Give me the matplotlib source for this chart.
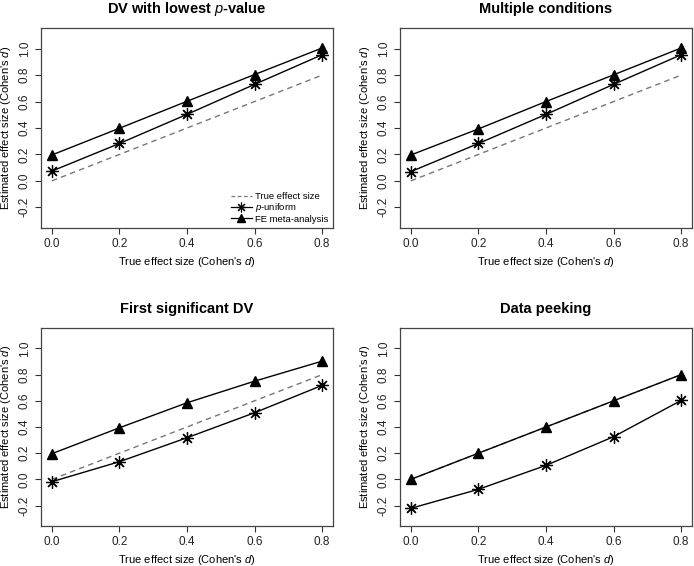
import matplotlib
matplotlib.use('Agg')
import matplotlib.pyplot as plt
from matplotlib.lines import Line2D

plt.rcParams['font.family'] = ['Liberation Sans', 'DejaVu Sans']
plt.rcParams['mathtext.fontset'] = 'custom'
plt.rcParams['mathtext.it'] = 'Liberation Sans:italic'
plt.rcParams['mathtext.rm'] = 'Liberation Sans'
plt.rcParams['mathtext.bf'] = 'Liberation Sans:bold'

# true effect sizes (x values)
true_d = [0.0, 0.2, 0.4, 0.6, 0.8]

titles = [r'DV with lowest $\mathit{p}$-value', 'Multiple conditions',
          'First significant DV', 'Data peeking']

puniform = [
    [0.074, 0.283, 0.503, 0.730, 0.954],
    [0.070, 0.283, 0.503, 0.730, 0.954],
    [-0.018, 0.135, 0.318, 0.509, 0.718],
    [-0.221, -0.076, 0.107, 0.326, 0.603],
]
fe_meta = [
    [0.196, 0.398, 0.602, 0.804, 1.005],
    [0.196, 0.393, 0.600, 0.802, 1.005],
    [0.196, 0.394, 0.585, 0.750, 0.903],
    [0.000, 0.200, 0.400, 0.600, 0.800],
]

xticks = [0.0, 0.2, 0.4, 0.6, 0.8]
yticks = [-0.2, 0.0, 0.2, 0.4, 0.6, 0.8, 1.0]

W, H = 694, 566
fig = plt.figure(figsize=(W / 100, H / 100), dpi=100)

# axes boxes in pixels: left, top, right, bottom
boxes = [(41, 28, 333, 228), (400, 28, 692, 228),
         (41, 328, 333, 526), (400, 328, 692, 526)]

star = (8, 2, 0)

for i, (l, t, r, b) in enumerate(boxes):
    ax = fig.add_axes([l / W, 1 - b / H, (r - l) / W, (b - t) / H])
    ax.plot(true_d, true_d, ls=(0, (4, 3)), color='#777777', lw=1.0, zorder=1)
    ax.plot(true_d, puniform[i], color='black', lw=1.0, zorder=2)
    ax.plot(true_d, puniform[i], ls='none', marker=star, ms=9,
            mec='black', mew=0.9, zorder=3)
    ax.plot(true_d, fe_meta[i], color='black', lw=1.0, marker='^', ms=6.5,
            mfc='black', mec='black', zorder=3)

    ax.set_xlim(-0.032, 0.832)
    ax.set_ylim(-0.356, 1.156)
    ax.set_xticks(xticks)
    ax.set_yticks(yticks)
    ax.set_xticklabels(['%.1f' % v for v in xticks], fontsize=8.5, color='#222222')
    ax.set_yticklabels(['%.1f' % v for v in yticks], fontsize=8.5, color='#222222',
                       rotation=90, va='center')
    ax.tick_params(direction='out', length=4, width=0.8, color='#333333')
    for s in ax.spines.values():
        s.set_color('#444444')
        s.set_linewidth(0.9)
    ax.set_xlabel(r"True effect size (Cohen's $d$)", fontsize=8, labelpad=3)
    ax.set_ylabel(r"Estimated effect size (Cohen's $d$)", fontsize=8, labelpad=4)
    ax.set_title(titles[i], fontsize=10.5, fontweight='bold', pad=11)

    if i == 0:
        handles = [
            Line2D([], [], ls=(0, (3, 2)), color='#777777', lw=0.9),
            Line2D([], [], color='black', lw=0.9, marker=star, ms=7, mew=0.8),
            Line2D([], [], color='black', lw=0.9, marker='^', ms=5.5),
        ]
        ax.legend(handles, ['True effect size', r'$p$-uniform', 'FE meta-analysis'],
                  loc='lower right', frameon=False, fontsize=6.8,
                  handlelength=2.2, labelspacing=0.05, borderaxespad=0.25,
                  handletextpad=0.4, borderpad=0.2)

plt.savefig('out.png', dpi=100)
